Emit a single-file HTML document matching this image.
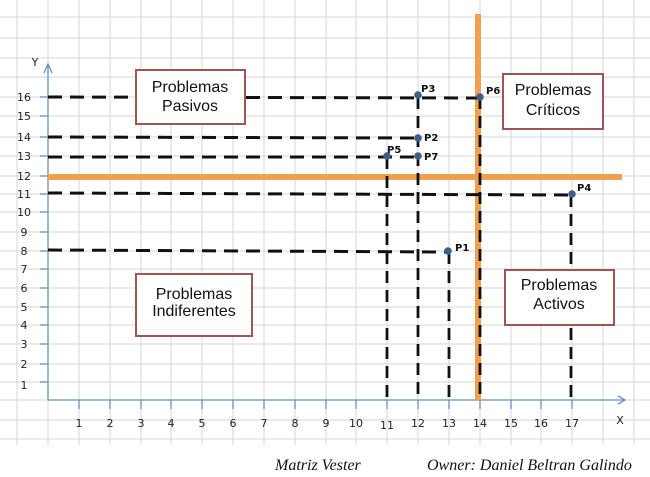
<!DOCTYPE html>
<html><head><meta charset="utf-8"><style>
html,body{margin:0;padding:0;background:#fff;width:650px;height:477px;overflow:hidden}
svg{display:block}
.t{font-family:"DejaVu Sans","Liberation Sans",sans-serif;font-size:11px;fill:#222}
.b{font-family:"Liberation Sans",sans-serif;font-size:16px;fill:#111;text-anchor:middle}
.p{font-family:"DejaVu Sans",sans-serif;font-size:10px;font-weight:bold;fill:#111}
.f{font-family:"Liberation Serif",serif;font-style:italic;font-size:16px;fill:#111}
</style></head><body>
<svg width="650" height="477" viewBox="0 0 650 477" xmlns="http://www.w3.org/2000/svg">
<g stroke="#d6d6d6" stroke-width="1">
<line x1="17" y1="0" x2="17" y2="445"/><line x1="48" y1="0" x2="48" y2="445"/><line x1="79" y1="0" x2="79" y2="445"/><line x1="110" y1="0" x2="110" y2="445"/><line x1="141" y1="0" x2="141" y2="445"/><line x1="171" y1="0" x2="171" y2="445"/><line x1="202" y1="0" x2="202" y2="445"/><line x1="233" y1="0" x2="233" y2="445"/><line x1="264" y1="0" x2="264" y2="445"/><line x1="295" y1="0" x2="295" y2="445"/><line x1="326" y1="0" x2="326" y2="445"/><line x1="356" y1="0" x2="356" y2="445"/><line x1="387" y1="0" x2="387" y2="445"/><line x1="418" y1="0" x2="418" y2="445"/><line x1="449" y1="0" x2="449" y2="445"/><line x1="480" y1="0" x2="480" y2="445"/><line x1="511" y1="0" x2="511" y2="445"/><line x1="541" y1="0" x2="541" y2="445"/><line x1="572" y1="0" x2="572" y2="445"/><line x1="603" y1="0" x2="603" y2="445"/><line x1="634" y1="0" x2="634" y2="445"/>
<line x1="0" y1="17" x2="650" y2="17"/><line x1="0" y1="38" x2="650" y2="38"/><line x1="0" y1="58" x2="650" y2="58"/><line x1="0" y1="77" x2="650" y2="77"/><line x1="0" y1="97" x2="650" y2="97"/><line x1="0" y1="116" x2="650" y2="116"/><line x1="0" y1="137" x2="650" y2="137"/><line x1="0" y1="156" x2="650" y2="156"/><line x1="0" y1="176" x2="650" y2="176"/><line x1="0" y1="194" x2="650" y2="194"/><line x1="0" y1="212" x2="650" y2="212"/><line x1="0" y1="232" x2="650" y2="232"/><line x1="0" y1="251" x2="650" y2="251"/><line x1="0" y1="269" x2="650" y2="269"/><line x1="0" y1="288" x2="650" y2="288"/><line x1="0" y1="307" x2="650" y2="307"/><line x1="0" y1="325" x2="650" y2="325"/><line x1="0" y1="344" x2="650" y2="344"/><line x1="0" y1="364" x2="650" y2="364"/><line x1="0" y1="382" x2="650" y2="382"/><line x1="0" y1="400" x2="650" y2="400"/><line x1="0" y1="420" x2="650" y2="420"/><line x1="0" y1="439" x2="650" y2="439"/>
</g>
<g stroke="#6c8db5" stroke-width="1.3" fill="none">
<line x1="48" y1="64" x2="48" y2="400"/><line x1="48" y1="400" x2="625" y2="400"/>
<polyline points="44,73 48,64 52,73"/><polyline points="618,396 625,400 618,404"/>
<line x1="40" y1="97" x2="48" y2="97"/><line x1="40" y1="116" x2="48" y2="116"/><line x1="40" y1="137" x2="48" y2="137"/><line x1="40" y1="156" x2="48" y2="156"/><line x1="40" y1="176" x2="48" y2="176"/><line x1="40" y1="194" x2="48" y2="194"/><line x1="40" y1="212" x2="48" y2="212"/><line x1="40" y1="232" x2="48" y2="232"/><line x1="40" y1="251" x2="48" y2="251"/><line x1="40" y1="269" x2="48" y2="269"/><line x1="40" y1="288" x2="48" y2="288"/><line x1="40" y1="307" x2="48" y2="307"/><line x1="40" y1="325" x2="48" y2="325"/><line x1="40" y1="344" x2="48" y2="344"/><line x1="40" y1="364" x2="48" y2="364"/><line x1="40" y1="382" x2="48" y2="382"/>
<line x1="79" y1="400" x2="79" y2="409"/><line x1="110" y1="400" x2="110" y2="409"/><line x1="141" y1="400" x2="141" y2="409"/><line x1="171" y1="400" x2="171" y2="409"/><line x1="202" y1="400" x2="202" y2="409"/><line x1="233" y1="400" x2="233" y2="409"/><line x1="264" y1="400" x2="264" y2="409"/><line x1="295" y1="400" x2="295" y2="409"/><line x1="326" y1="400" x2="326" y2="409"/><line x1="356" y1="400" x2="356" y2="409"/><line x1="387" y1="400" x2="387" y2="409"/><line x1="418" y1="400" x2="418" y2="409"/><line x1="449" y1="400" x2="449" y2="409"/><line x1="480" y1="400" x2="480" y2="409"/><line x1="511" y1="400" x2="511" y2="409"/><line x1="541" y1="400" x2="541" y2="409"/><line x1="572" y1="400" x2="572" y2="409"/>
</g>
<g class="t" text-anchor="middle">
<text x="35" y="66">Y</text><text x="620" y="424">X</text>
<text x="24" y="101">16</text><text x="24" y="120">15</text><text x="24" y="141">14</text><text x="24" y="160">13</text><text x="24" y="180">12</text><text x="24" y="198">11</text><text x="24" y="216">10</text><text x="24" y="236">9</text><text x="24" y="255">8</text><text x="24" y="273">7</text><text x="24" y="292">6</text><text x="24" y="311">5</text><text x="24" y="329">4</text><text x="24" y="348">3</text><text x="24" y="368">2</text><text x="24" y="389">1</text>
<text x="79" y="427">1</text><text x="110" y="427">2</text><text x="141" y="427">3</text><text x="171" y="427">4</text><text x="202" y="427">5</text><text x="233" y="427">6</text><text x="264" y="427">7</text><text x="295" y="427">8</text><text x="326" y="427">9</text><text x="356" y="427">10</text><text x="387" y="429">11</text><text x="418" y="427">12</text><text x="449" y="427">13</text><text x="480" y="427">14</text><text x="511" y="427">15</text><text x="541" y="427">16</text><text x="572" y="427">17</text>
</g>
<rect x="475" y="14" width="6" height="386" fill="#f0a050"/>
<rect x="48" y="174" width="574" height="6" fill="#f0a050"/>
<g stroke="#111" stroke-width="3" stroke-dasharray="14,8" fill="none">
<line x1="48" y1="97" x2="478" y2="98"/>
<line x1="48" y1="137" x2="418" y2="138"/>
<line x1="48" y1="157" x2="418" y2="157"/>
<line x1="48" y1="193" x2="571" y2="195"/>
<line x1="48" y1="250" x2="448" y2="252"/>
</g>
<g stroke="#111" stroke-width="2.8" stroke-dasharray="12,7" fill="none">
<line x1="387" y1="157" x2="387" y2="400"/>
<line x1="418" y1="97" x2="418" y2="400"/>
<line x1="449" y1="252" x2="449" y2="400"/>
<line x1="480" y1="97" x2="480" y2="400"/>
<line x1="571" y1="195" x2="571" y2="400"/>
</g>
<g fill="#3f5f8a">
<circle cx="418" cy="95" r="3.8"/><circle cx="480" cy="97" r="3.8"/><circle cx="418" cy="138" r="3.8"/><circle cx="418" cy="156" r="3.8"/><circle cx="387" cy="156" r="3.8"/><circle cx="572" cy="194" r="3.8"/><circle cx="448" cy="251" r="3.8"/>
</g>
<g class="p">
<text x="421" y="92">P3</text><text x="486" y="94">P6</text><text x="424" y="141">P2</text><text x="424" y="160">P7</text><text x="387" y="153">P5</text><text x="577" y="191">P4</text><text x="455" y="251">P1</text>
</g>
<g fill="#fff" stroke="#a05555" stroke-width="2">
<rect x="136" y="70" width="109" height="54"/>
<rect x="503" y="74" width="100" height="55"/>
<rect x="136" y="274" width="116" height="62"/>
<rect x="505" y="270" width="109" height="55"/>
</g>
<g class="b">
<text x="190" y="92">Problemas</text><text x="190" y="111">Pasivos</text>
<text x="553" y="95">Problemas</text><text x="553" y="115">Críticos</text>
<text x="194" y="299">Problemas</text><text x="194" y="316">Indiferentes</text>
<text x="559" y="290">Problemas</text><text x="559" y="309">Activos</text>
</g>
<text class="f" x="275" y="470">Matriz Vester</text>
<text class="f" x="427" y="470">Owner: Daniel Beltran Galindo</text>
</svg>
</body></html>
